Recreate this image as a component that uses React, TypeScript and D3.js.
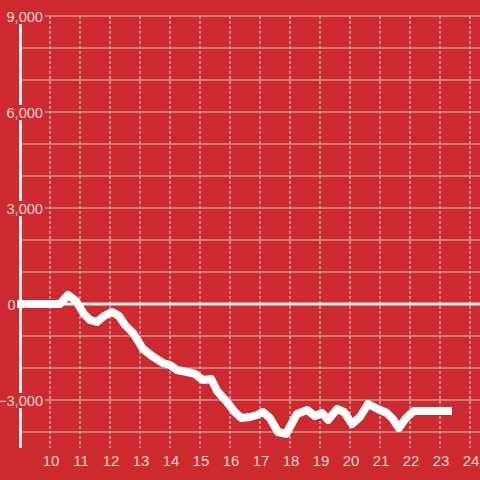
import React from "react";
import * as d3 from "d3";

// hour of day (decimal) and value
const hours: number[] = [
  8.9, 10.33, 10.6, 10.87, 11.13, 11.33, 11.57, 11.8, 12.07, 12.3, 12.5, 12.77,
  13.1, 13.4, 13.77, 14.0, 14.23, 14.57, 14.83, 15.1, 15.37, 15.57, 15.9, 16.13,
  16.37, 16.67, 16.9, 17.1, 17.33, 17.6, 17.87, 18.23, 18.57, 18.83, 19.07,
  19.27, 19.57, 19.8, 20.07, 20.33, 20.6, 20.93, 21.23, 21.43, 21.63, 21.87,
  22.13, 23.4,
];
const values: number[] = [
  0, 0, 280, 94, -310, -500, -560, -375, -250, -375, -656, -906, -1406, -1625,
  -1844, -1906, -2062, -2125, -2187, -2375, -2344, -2719, -3062, -3344, -3562,
  -3531, -3469, -3375, -3562, -4000, -4062, -3437, -3312, -3500, -3406, -3625,
  -3281, -3375, -3750, -3531, -3125, -3281, -3406, -3594, -3875, -3562, -3344,
  -3344,
];

const xTicks = [10, 11, 12, 13, 14, 15, 16, 17, 18, 19, 20, 21, 22, 23, 24];
const yLabelTicks = [9000, 6000, 3000, 0, -3000];
const yGridTicks = d3.range(-4000, 9001, 1000);

const width = 480;
const height = 480;
const bg = "#cc2a2f";
const textColor = "#f3d6d7";

const x = d3.scaleLinear().domain([9, 24]).range([20, 470]);
const y = d3.scaleLinear().domain([-4000, 9000]).range([432, 16]);

const points = hours.map((h, i) => ({ h, v: values[i] }));

const line = d3
  .line<{ h: number; v: number }>()
  .x((d) => x(d.h))
  .y((d) => y(d.v));

const fmt = d3.format(",");

export default function App() {
  return (
    <svg
      width={width}
      height={height}
      style={{ position: "absolute", left: 0, top: 0, fontFamily: "Liberation Sans, Arial, sans-serif" }}
    >
      <rect width={width} height={height} fill={bg} />

      {/* vertical dashed gridlines */}
      {xTicks.map((t) => (
        <line
          key={"vx" + t}
          x1={x(t)}
          x2={x(t)}
          y1={16}
          y2={448}
          stroke="#e6dede"
          strokeWidth={1}
          strokeDasharray="3,2"
        />
      ))}

      {/* horizontal gridlines */}
      {yGridTicks.map((t) => (
        <line
          key={"hy" + t}
          x1={20}
          x2={width}
          y1={y(t)}
          y2={y(t)}
          stroke="#d0c8c8"
          strokeWidth={1}
        />
      ))}

      {/* y axis line */}
      <line x1={20.5} x2={20.5} y1={16} y2={448} stroke="#f2eeee" strokeWidth={3} />

      {/* zero line */}
      <line x1={20} x2={width} y1={y(0)} y2={y(0)} stroke="#f2eeee" strokeWidth={3} />

      {/* y labels with background */}
      {yLabelTicks.map((t) => {
        const label = t === 0 ? "0" : fmt(t);
        const right = t === 0 ? 15.5 : 43;
        const w = label.length * 7.5 + 2;
        return (
          <g key={"yl" + t}>
            <rect x={right + 1 - w} y={y(t) - 7} width={w + 1} height={15} fill={bg} />
            <text
              x={right}
              y={y(t) + 5.5}
              textAnchor="end"
              fontSize={14.6}
              fill={textColor}
            >
              {label}
            </text>
          </g>
        );
      })}

      {/* x labels */}
      {xTicks.map((t) => (
        <text
          key={"xl" + t}
          x={x(t) + 1}
          y={466}
          textAnchor="middle"
          fontSize={15}
          fill={textColor}
        >
          {t}
        </text>
      ))}

      {/* data line */}
      <path
        d={line(points) as string}
        fill="none"
        stroke="#ffffff"
        strokeWidth={8}
        strokeLinejoin="round"
        strokeLinecap="butt"
      />
    </svg>
  );
}
